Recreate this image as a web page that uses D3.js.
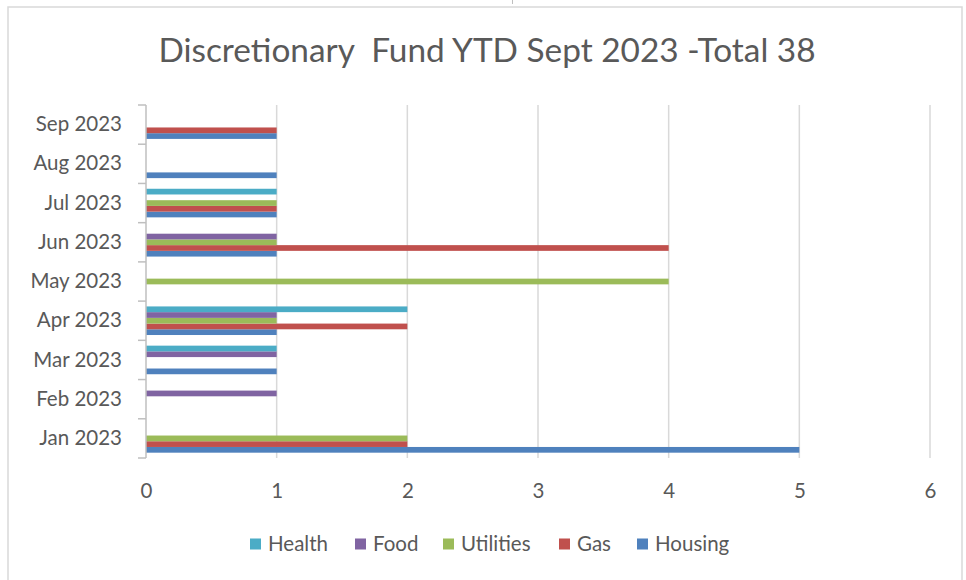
<!DOCTYPE html>
<html>
<head>
<meta charset="utf-8">
<script src="https://cdn.jsdelivr.net/npm/d3@7"></script>
<style>
html,body{margin:0;padding:0;background:#fff;}
svg{display:block;}
text{font-family:"Lato","Open Sans",sans-serif;}
</style>
</head>
<body>
<svg id="chart" width="966" height="580"></svg>
<script>
const title = "Discretionary  Fund YTD Sept 2023 -Total 38";
const months = ["Jan 2023","Feb 2023","Mar 2023","Apr 2023","May 2023","Jun 2023","Jul 2023","Aug 2023","Sep 2023"];
const seriesNames = ["Housing","Gas","Utilities","Food","Health"];
const seriesColors = ["#4f81bd","#c0504d","#9bbb59","#8064a2","#4bacc6"];
const housing   = [5,0,1,1,0,1,1,1,1];
const gas       = [2,0,0,2,0,4,1,0,1];
const utilities = [2,0,0,1,4,1,1,0,0];
const food      = [0,1,1,1,0,1,0,0,0];
const health    = [0,0,1,2,0,0,1,0,0];
const xTicks = [0,1,2,3,4,5,6];
const legendOrder = ["Health","Food","Utilities","Gas","Housing"];

(function(){
const seriesValues = [housing, gas, utilities, food, health];
const svg = d3.select("#chart");
const FS = 20.5;

// small mark above chart frame
svg.append("line").attr("x1",512.5).attr("x2",512.5).attr("y1",0).attr("y2",4)
  .attr("stroke","#bfbfbf").attr("stroke-width",1);

// chart border
svg.append("rect").attr("x",8).attr("y",7).attr("width",954).attr("height",600)
  .attr("fill","#fff").attr("stroke","#d9d9d9").attr("stroke-width",1.5);

const pLeft = 146, pRight = 930, pTop = 105, pBottom = 458;
const x = d3.scaleLinear().domain([0,6]).range([pLeft,pRight]);
const y = d3.scaleBand().domain(months.slice().reverse()).range([pTop,pBottom]).paddingInner(0).paddingOuter(0);
const inner = d3.scaleBand().domain(seriesNames.slice().reverse()).range([0,y.bandwidth()]).paddingInner(0).paddingOuter(0.93);

// title
svg.append("text").attr("x",487).attr("y",62).attr("text-anchor","middle")
  .attr("font-size",33.4).attr("fill","#595959")
  .style("white-space","pre").attr("xml:space","preserve").text(title);

// gridlines
svg.append("g").selectAll("line").data(xTicks.filter(d=>d>0)).join("line")
  .attr("x1",d=>x(d)).attr("x2",d=>x(d)).attr("y1",pTop).attr("y2",pBottom)
  .attr("stroke","#d9d9d9").attr("stroke-width",1.5);

// bars
const bars = [];
months.forEach((m,i)=>{
  seriesNames.forEach((s,j)=>{
    bars.push({month:m, series:s, value:seriesValues[j][i], color:seriesColors[j]});
  });
});
svg.append("g").selectAll("rect").data(bars.filter(d=>d.value>0)).join("rect")
  .attr("x",x(0))
  .attr("y",d=>y(d.month)+inner(d.series))
  .attr("width",d=>x(d.value)-x(0))
  .attr("height",inner.bandwidth())
  .attr("fill",d=>d.color);

// y axis
const yAxis = d3.axisLeft(y).tickSize(0).tickPadding(24);
const gy = svg.append("g").attr("transform",`translate(${pLeft},0)`).call(yAxis);
gy.select(".domain").remove();
gy.selectAll("text").attr("font-size",FS).attr("fill","#595959").attr("font-family","Lato, 'Open Sans', sans-serif");
svg.append("line").attr("x1",pLeft).attr("x2",pLeft).attr("y1",pTop).attr("y2",pBottom)
  .attr("stroke","#bfbfbf").attr("stroke-width",1.5);
const bounds = months.map(m=>y(m)).concat([pBottom]);
svg.append("g").selectAll("line").data(bounds).join("line")
  .attr("x1",pLeft-8).attr("x2",pLeft).attr("y1",d=>d).attr("y2",d=>d)
  .attr("stroke","#bfbfbf").attr("stroke-width",1.5);

// x axis labels
const xAxis = d3.axisBottom(x).tickValues(xTicks).tickSize(0).tickPadding(25).tickFormat(d3.format("d"));
const gx = svg.append("g").attr("transform",`translate(0,${pBottom})`).call(xAxis);
gx.select(".domain").remove();
gx.selectAll("text").attr("font-size",FS).attr("fill","#595959").attr("font-family","Lato, 'Open Sans', sans-serif");

// legend
const legendX = [250,355,443,559,637];
const lg = svg.append("g");
legendOrder.forEach((name,k)=>{
  const col = seriesColors[seriesNames.indexOf(name)];
  const g = lg.append("g").attr("transform",`translate(${legendX[k]},544)`);
  g.append("rect").attr("x",0).attr("y",-5.5).attr("width",11).attr("height",11).attr("fill",col);
  g.append("text").attr("x",18).attr("y",7).attr("font-size",FS).attr("fill","#595959").text(name);
});
})();
</script>
</body>
</html>
